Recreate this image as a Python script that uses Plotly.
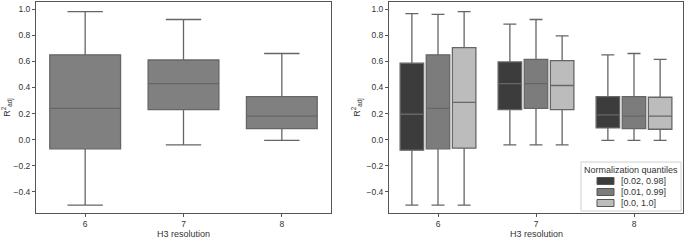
import plotly.graph_objects as go

resolutions = ["6", "7", "8"]

# Left panel (single box per resolution)
left_low = [-0.50, -0.04, -0.005]
left_q1 = [-0.07, 0.23, 0.085]
left_med = [0.24, 0.43, 0.18]
left_q3 = [0.65, 0.61, 0.33]
left_high = [0.98, 0.92, 0.66]

# Right panel (by normalization quantiles)
legend_title = "Normalization quantiles"
series_names = ["[0.02, 0.98]", "[0.01, 0.99]", "[0.0, 1.0]"]
series_colors = ["#3c3c3c", "#7c7c7c", "#bcbcbc"]
right_low = [[-0.50, -0.04, -0.005], [-0.50, -0.04, -0.005], [-0.50, -0.04, -0.005]]
right_q1 = [[-0.08, 0.23, 0.09], [-0.07, 0.24, 0.085], [-0.065, 0.23, 0.08]]
right_med = [[0.195, 0.43, 0.19], [0.24, 0.43, 0.18], [0.285, 0.415, 0.18]]
right_q3 = [[0.585, 0.595, 0.33], [0.65, 0.615, 0.33], [0.705, 0.605, 0.325]]
right_high = [[0.965, 0.885, 0.65], [0.96, 0.92, 0.66], [0.98, 0.795, 0.615]]

x_title = "H3 resolution"
y_ticks = [-0.4, -0.2, 0.0, 0.2, 0.4, 0.6, 0.8, 1.0]
y_range = [-0.561, 1.054]

W, H = 685, 240
LINE = "#666666"
FAMILY = "Liberation Sans, Arial, sans-serif"

fig = go.Figure()

fig.add_trace(go.Box(
    x=resolutions, q1=left_q1, median=left_med, q3=left_q3,
    lowerfence=left_low, upperfence=left_high,
    fillcolor="#808080", line=dict(color=LINE, width=1.3),
    whiskerwidth=0.5, showlegend=False, xaxis="x", yaxis="y",
    offsetgroup="L", boxpoints=False, name="R2adj",
))

for i, name in enumerate(series_names):
    fig.add_trace(go.Box(
        x=resolutions, q1=right_q1[i], median=right_med[i], q3=right_q3[i],
        lowerfence=right_low[i], upperfence=right_high[i],
        fillcolor=series_colors[i], line=dict(color=LINE, width=1.3),
        whiskerwidth=0.55, name=name, xaxis="x2", yaxis="y2",
        offsetgroup=str(i), boxpoints=False, showlegend=False,
    ))

font = dict(family=FAMILY, size=9, color="#333333")
tick_font = dict(family=FAMILY, size=8.5, color="#333333")
axis_common = dict(
    showline=True, linecolor="#555555", linewidth=1, mirror=True,
    ticks="outside", ticklen=3, tickcolor="#555555", tickfont=tick_font,
    showgrid=False, zeroline=False, automargin=False,
)

def px(x):
    return x / W

def py(y):
    return 1 - y / H

# x-axis titles placed at the bottom edge under each panel
annotations = [
    dict(text=x_title, xref="x domain", yref="paper", x=0.5, y=0,
         xanchor="center", yanchor="bottom", showarrow=False, font=font, borderpad=0),
    dict(text=x_title, xref="x2 domain", yref="paper", x=0.5, y=0,
         xanchor="center", yanchor="bottom", showarrow=False, font=font, borderpad=0),
]

# Legend box drawn in the lower right of the right panel
shapes = [dict(type="rect", xref="paper", yref="paper",
               x0=px(581), x1=px(681), y0=py(211), y1=py(162),
               line=dict(color="#d0d0d0", width=1), fillcolor="rgba(255,255,255,0.85)",
               layer="above")]
annotations.append(dict(text=legend_title, xref="paper", yref="paper",
                        x=px(631), y=py(170), xanchor="center", yanchor="middle",
                        showarrow=False, font=font))
for i, name in enumerate(series_names):
    yc = 181 + 11 * i
    shapes.append(dict(type="rect", xref="paper", yref="paper",
                       x0=px(597), x1=px(614), y0=py(yc + 3.5), y1=py(yc - 3.5),
                       line=dict(color="#555555", width=1), fillcolor=series_colors[i],
                       layer="above"))
    annotations.append(dict(text=name, xref="paper", yref="paper",
                            x=px(619), y=py(yc), xanchor="left", yanchor="middle",
                            showarrow=False, font=font))

fig.update_layout(
    template="none",
    width=W, height=H,
    margin=dict(l=0, r=0, t=0, b=0, autoexpand=False),
    paper_bgcolor="white", plot_bgcolor="white",
    boxmode="group", boxgap=0.2, boxgroupgap=0.1,
    font=font, showlegend=False,
    xaxis=dict(domain=[36 / W, 331 / W], anchor="y", type="category",
               range=[-0.5, 2.5], **axis_common),
    yaxis=dict(domain=[1 - 213 / H, 1 - 2 / H], anchor="x", range=y_range,
               tickvals=y_ticks, tickformat=".1f",
               title=dict(text="R<sup>2</sup><sub>adj</sub>", font=font, standoff=4),
               **axis_common),
    xaxis2=dict(domain=[389 / W, 683 / W], anchor="y2", type="category",
                range=[-0.5, 2.5], **axis_common),
    yaxis2=dict(domain=[1 - 213 / H, 1 - 2 / H], anchor="x2", range=y_range,
                tickvals=y_ticks, tickformat=".1f",
                title=dict(text="R<sup>2</sup><sub>adj</sub>", font=font, standoff=4),
                **axis_common),
    shapes=shapes,
    annotations=annotations,
)

fig.write_html("out.html", config={"displayModeBar": False})

# remove the browser's default page margin so the figure fills the window
with open("out.html", encoding="utf-8") as f:
    html = f.read()
html = html.replace("<head>", "<head><style>html,body{margin:0;padding:0;overflow:hidden;}</style>", 1)
with open("out.html", "w", encoding="utf-8") as f:
    f.write(html)
